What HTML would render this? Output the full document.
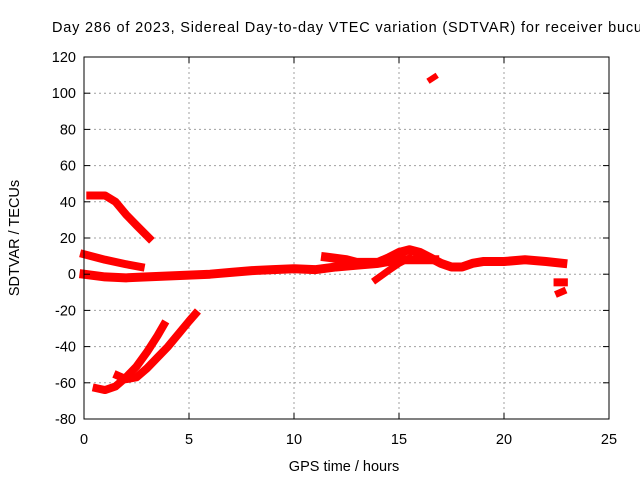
<!DOCTYPE html>
<html><head><meta charset="utf-8"><style>
body{margin:0;background:#fff}
svg{display:block;font-family:"Liberation Sans",sans-serif}
</style></head><body>
<svg id="chart" width="640" height="480" viewBox="0 0 640 480">
<text x="52" y="32" font-size="14.5" textLength="590" lengthAdjust="spacing">Day 286 of 2023, Sidereal Day-to-day VTEC variation (SDTVAR) for receiver bucu</text>
<g id="grid"></g>
<g id="series"></g>
<rect x="84" y="57" width="525" height="362" fill="none" stroke="#000" stroke-width="1"/>
<g id="axes"></g>
<text x="344" y="471" font-size="14.5" text-anchor="middle">GPS time / hours</text>
<text transform="translate(19,238) rotate(-90)" font-size="14.5" text-anchor="middle">SDTVAR / TECUs</text>
</svg>
<script>
const xTicks=[0,5,10,15,20,25];
const yTicks=[-80,-60,-40,-20,0,20,40,60,80,100,120];
const seriesA=[[0.3,43.5],[1,43.5],[1.5,40],[2,33],[2.5,27],[3.1,20]];
const seriesB=[[0,11],[1,8],[2,5.5],[2.7,4]];
const seriesC=[[0,0],[1,-1.5],[2,-2],[3,-1.5],[4,-1],[5,-0.5],[6,0],[7,1],[8,2],[9,2.5],[10,3],[11,2.5],[12,4],[13,5],[14,6],[15,8],[16,8],[16.7,8]];
const seriesD=[[11.5,9.5],[12.5,8],[13,6.5],[14,6.5],[14.5,9],[15,12],[15.5,13.5],[16,12],[16.5,9],[17,6],[17.5,4],[18,4],[18.5,6],[19,7],[20,7],[21,8],[22,7],[22.8,6]];
const seriesE=[[13.9,-3],[14.5,2],[15,6],[15.5,9]];
const seriesF=[[0.6,-63],[1,-64],[1.5,-62],[2,-57],[2.5,-51],[3,-43],[3.5,-34],[3.8,-28]];
const seriesG=[[1.6,-56],[2,-58],[2.5,-57],[3,-52],[3.5,-46],[4,-40],[4.5,-33],[5,-26],[5.3,-22]];
const seriesH=[[16.5,107.5],[16.7,109]];
const seriesI=[[22.55,-4.5],[22.85,-4.5]];
const seriesJ=[[22.6,-10.5],[22.8,-9.5]];
const NS='http://www.w3.org/2000/svg';
const X=v=>84+v*(525/25);
const Y=v=>419-(v+80)*(362/200);
function mk(t,a,p){const e=document.createElementNS(NS,t);for(const k in a)e.setAttribute(k,a[k]);p.appendChild(e);return e;}
const grid=document.getElementById('grid'),axes=document.getElementById('axes'),ser=document.getElementById('series');
xTicks.forEach(v=>{
 if(v>0&&v<25){const l=mk('line',{x1:X(v),x2:X(v),y1:57,y2:419,stroke:'#a0a0a0','stroke-dasharray':'2,3'},grid);
 
 }
 mk('line',{x1:X(v),x2:X(v),y1:419,y2:413,stroke:'#000'},axes);
 mk('line',{x1:X(v),x2:X(v),y1:57,y2:63,stroke:'#000'},axes);
 const t=mk('text',{x:X(v),y:444,'font-size':'14.5','text-anchor':'middle'},axes);t.textContent=v;
 
 
});
yTicks.forEach(v=>{
 if(v>-80&&v<120){const l=mk('line',{x1:84,x2:609,y1:Y(v),y2:Y(v),stroke:'#a0a0a0','stroke-dasharray':'2,3'},grid);
 
 }
 mk('line',{x1:84,x2:90,y1:Y(v),y2:Y(v),stroke:'#000'},axes);
 mk('line',{x1:603,x2:609,y1:Y(v),y2:Y(v),stroke:'#000'},axes);
 const t=mk('text',{x:76,y:Y(v)+5,'font-size':'14.5','text-anchor':'end'},axes);t.textContent=v;
 
 
});
const all=[seriesA,seriesB,seriesC,seriesD,seriesE,seriesF,seriesG,seriesH,seriesI,seriesJ];
const widths=[8,8,9,9,7,8,8,6,8,7];
all.forEach((s,i)=>{
 const p=mk('polyline',{points:s.map(d=>X(d[0])+','+Y(d[1])).join(' '),fill:'none',stroke:'#ff0000','stroke-width':widths[i],'stroke-linejoin':'round','stroke-linecap':'square'},ser);
 
 
});
</script>
</body></html>
